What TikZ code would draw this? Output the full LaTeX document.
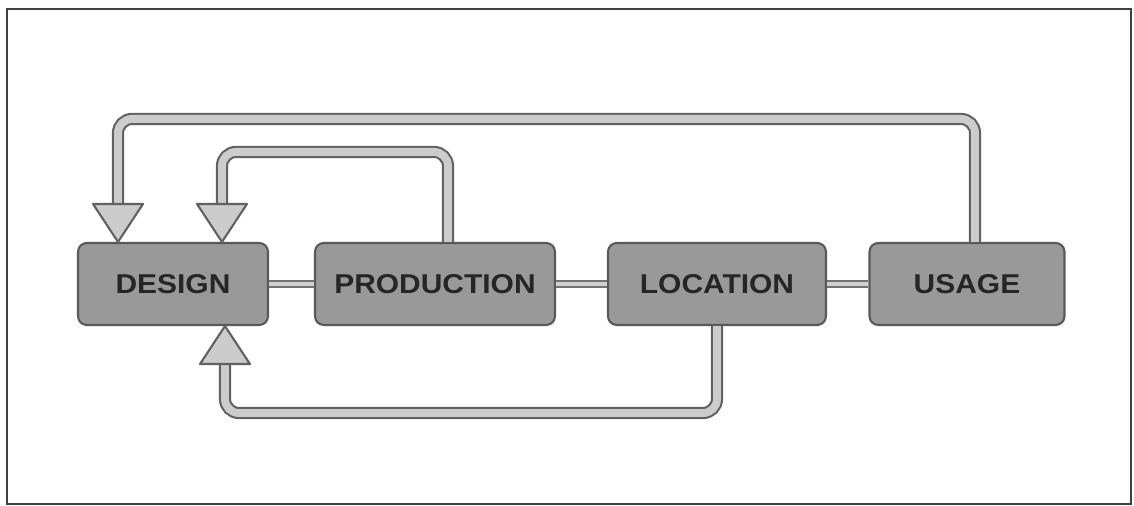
\documentclass[tikz,border=0pt]{standalone}
\usepackage{fontspec}
\setmainfont{Liberation Sans}
\newfontfamily\stagefont[FakeStretch=1.1]{Liberation Sans}
\usetikzlibrary{calc}

\begin{document}
\begin{tikzpicture}[x=0.02cm, y=-0.02cm,
    stage/.style={draw=black!65, line width=1.2pt, fill=black!40,
      rounded corners=5pt, minimum height=1.64cm, text=black!85,
      font=\stagefont\fontsize{15.5}{15.5}\selectfont\bfseries},
    loop/.style={draw=black!62, line width=1.2pt, double=black!20,
      double distance=4.5pt, rounded corners=8pt},
    link/.style={draw=black!55, line width=0.8pt, double=black!18,
      double distance=2.8pt},
    head/.style={draw=black!62, fill=black!20, line width=1.2pt, line join=round}
  ]
  \useasboundingbox (0,0) rectangle (1134,506);
  % frame
  \draw[black!75, line width=1.5pt] (7,9) rectangle (1131,504);

  % stages
  \node[stage, minimum width=3.8cm]  (design)     at (173,284) {DESIGN};
  \node[stage, minimum width=4.8cm]  (production) at (435,284) {PRODUCTION};
  \node[stage, minimum width=4.36cm] (location)   at (717,284) {LOCATION};
  \node[stage, minimum width=3.9cm]  (usage)      at (967,284) {USAGE};

  % links between stages
  \draw[link] (design) -- (production);
  \draw[link] (production) -- (location);
  \draw[link] (location) -- (usage);

  % arrow tips on DESIGN
  \coordinate (tipA) at ([xshift=-1.1cm]design.north);
  \coordinate (tipB) at ([xshift=0.98cm]design.north);
  \coordinate (tipC) at ([xshift=1.04cm]design.south);

  % feedback loops
  \draw[loop] ([xshift=0.16cm]usage.north) |- ($(tipA)+(0,-123)$) -- ($(tipA)+(0,-36)$);
  \draw[loop] ([xshift=0.26cm]production.north) |- ($(tipB)+(0,-90)$) -- ($(tipB)+(0,-36)$);
  \draw[loop] (location.south) |- ($(tipC)+(0,87)$) -- ($(tipC)+(0,36)$);

  % heads
  \draw[head] (tipA) -- ++(-25,-38) -- ++(50,0) -- cycle;
  \draw[head] (tipB) -- ++(-25,-38) -- ++(50,0) -- cycle;
  \draw[head] (tipC) -- ++(-25,38) -- ++(50,0) -- cycle;
\end{tikzpicture}
\end{document}
